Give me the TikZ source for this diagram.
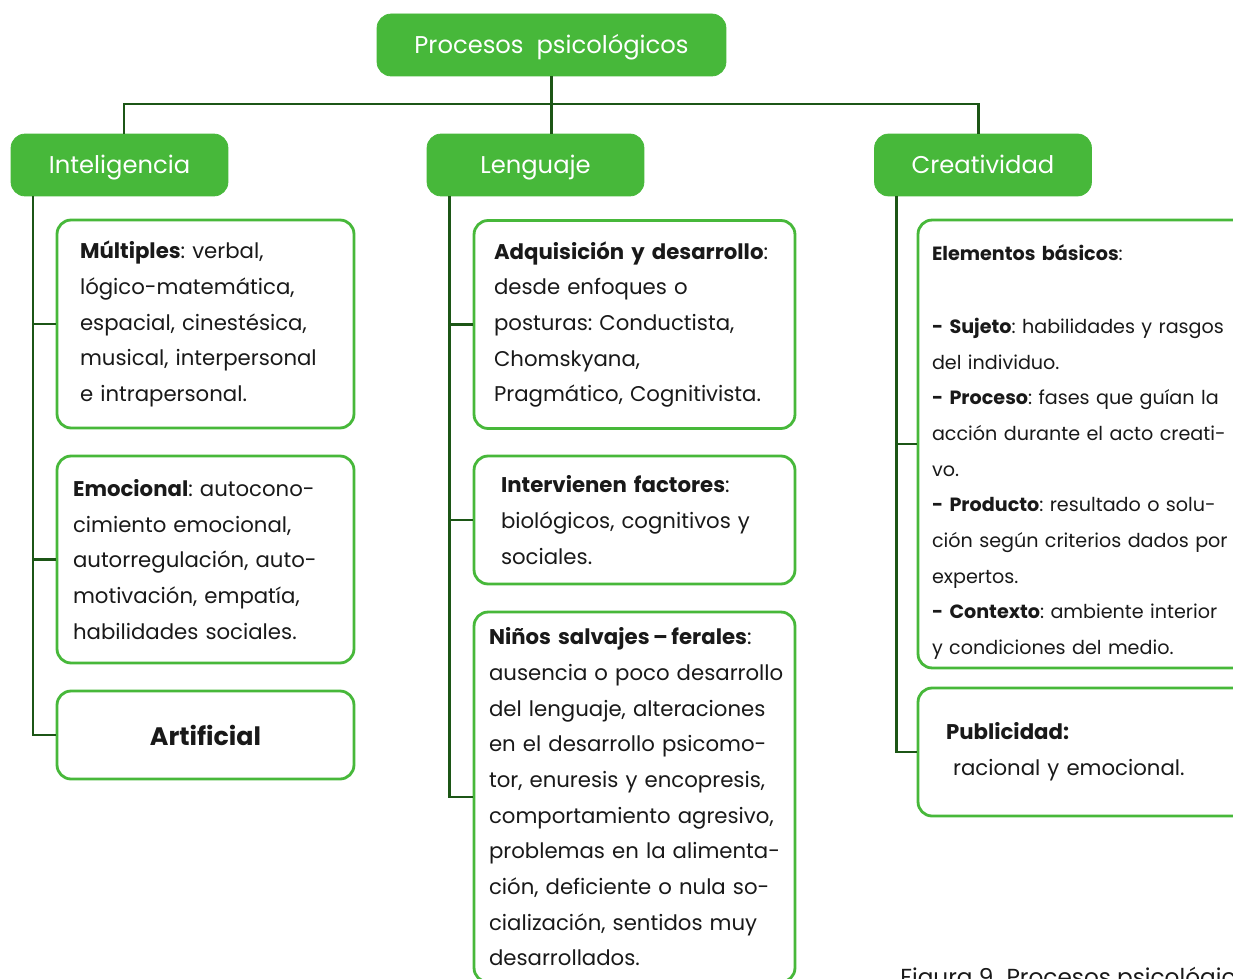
\documentclass[tikz,border=0pt]{standalone}
\usepackage{fontspec}
\setmainfont{Poppins}
\usetikzlibrary{positioning}
\definecolor{leaf}{RGB}{71,184,58}
\definecolor{stem}{RGB}{28,86,22}
\definecolor{ink}{RGB}{25,25,25}
\tikzset {
    head/.style = {
        rounded corners = 0.28cm,
        fill = leaf, draw = leaf,
        text = white,
        font = \fontsize{13.8}{17}\selectfont,
        text height = 11.2pt, text depth = 1.5pt,
        minimum width = 4.34cm, minimum height = 1.24cm,
        inner sep = 0pt
    },
    card/.style = {
        rounded corners = 0.28cm,
        draw = leaf, line width = 1.6pt, fill = white,
        text = ink, align = left,
        font = \fontsize{12.1}{20.3}\selectfont,
        execute at begin node = {\frenchspacing\rightskip = -2em plus 1fil\relax},
        inner ysep = 0pt
    },
    small/.style = {font = \fontsize{10.9}{20.3}\selectfont},
    conn/.style = {draw = stem, line width = 1.7pt},
    caption/.style = {text = ink, font = \fontsize{13.2}{15}\selectfont, inner sep = 0pt}
}

\begin{document}
\begin{tikzpicture}[x = 0.02cm, y = -0.02cm]
    \useasboundingbox (0, 0) rectangle (1233, 979);
    %
    \node [head, minimum width = 6.98cm] (top) at (551.5, 45) {Procesos~ psicológicos};
    \node [head] (intel) at (119.5, 165) {Inteligencia};
    \node [head] (leng) at (535.5, 165) {Lenguaje};
    \node [head] (crea) at (983, 165) {Creatividad};
    \coordinate (bar) at (551.5, 104);
    \draw [conn] (top.south) -- (top.south |- leng.north);
    \draw [conn] ([xshift = 0.09cm]intel.north) -- ([xshift = 0.09cm]intel.north |- bar)
        -- ([xshift = -0.1cm]crea.north |- bar) -- ([xshift = -0.1cm]crea.north);
    %
    \node [card, minimum width = 5.94cm, minimum height = 4.16cm, inner xsep = 0.46cm, text width = 5.02cm] (mult) at (205.5, 324)
        {\textbf{Múltiples}: verbal,\\ lógico-matemática,\\ espacial, cinestésica,\\ musical, interpersonal\\ e intrapersonal.};
    \node [card, minimum width = 5.94cm, minimum height = 4.14cm, inner xsep = 0.32cm, text width = 5.3cm] (emo) at (205.5, 559.5)
        {\textbf{Emocional}: autocono-\\ cimiento emocional,\\ autorregulación, auto-\\ motivación, empatía,\\ habilidades sociales.};
    \node [card, minimum width = 5.94cm, minimum height = 1.76cm, align = center, font = \fontsize{14.4}{17}\selectfont] (art) at (205.5, 735)
        {\textbf{Artificial}};
    %
    \node [card, minimum width = 6.42cm, minimum height = 4.16cm, inner xsep = 0.4cm, text width = 5.62cm] (adq) at (634.5, 324.5)
        {\textbf{Adquisición y desarrollo}:\\ desde enfoques o\\ posturas: Conductista,\\ Chomskyana,\\ Pragmático, Cognitivista.};
    \node [card, minimum width = 6.42cm, minimum height = 2.56cm, inner xsep = 0.54cm, text width = 5.34cm] (fac) at (634.5, 520)
        {\textbf{Intervienen factores}:\\ biológicos, cognitivos y\\ sociales.};
    \node [card, minimum width = 6.42cm, minimum height = 7.4cm, inner xsep = 0.3cm, text width = 5.82cm] (nin) at (634.5, 797)
        {\textbf{Niños salvajes\,–\,ferales}:\\ ausencia o poco desarrollo\\ del lenguaje, alteraciones\\ en el desarrollo psicomo-\\ tor, enuresis y encopresis,\\ comportamiento agresivo,\\ problemas en la alimenta-\\ ción, deficiente o nula so-\\ cialización, sentidos muy\\ desarrollados.};
    %
    \node [card, small, inner xsep = 0.28cm, text width = 7cm, minimum height = 8.96cm] (ele) at (1107, 444)
        {\mbox{}\\[-2pt] \textbf{Elementos básicos}:\\[21pt] \textbf{- Sujeto}: habilidades y rasgos\\ del individuo.\\ \textbf{- Proceso}: fases que guían la\\ acción durante el acto creati-\\ vo.\\ \textbf{- Producto}: resultado o solu-\\ ción según criterios dados por\\ expertos.\\ \textbf{- Contexto}: ambiente interior\\ y condiciones del medio.};
    \node [card, inner xsep = 0.56cm, text width = 6cm, minimum height = 2.56cm] (pub) at (1096, 752)
        {\textbf{Publicidad:}\\ \ racional y emocional.};
    %
    \coordinate (spl) at (33, 196);
    \coordinate (spm) at (449, 196);
    \coordinate (spr) at (896, 196);
    \draw [conn] (spl) |- (art.west);
    \draw [conn] (spl |- mult.west) -- (mult.west);
    \draw [conn] (spl |- emo.west) -- (emo.west);
    \draw [conn] (spm) |- (nin.west);
    \draw [conn] (spm |- adq.west) -- (adq.west);
    \draw [conn] (spm |- fac.west) -- (fac.west);
    \draw [conn] (spr) |- (pub.west);
    \draw [conn] (spr |- ele.west) -- (ele.west);
    %
    \node [caption, anchor = base west] (cap) at (900, 985) {Figura 9. Procesos psicológicos};
\end{tikzpicture}
\end{document}
